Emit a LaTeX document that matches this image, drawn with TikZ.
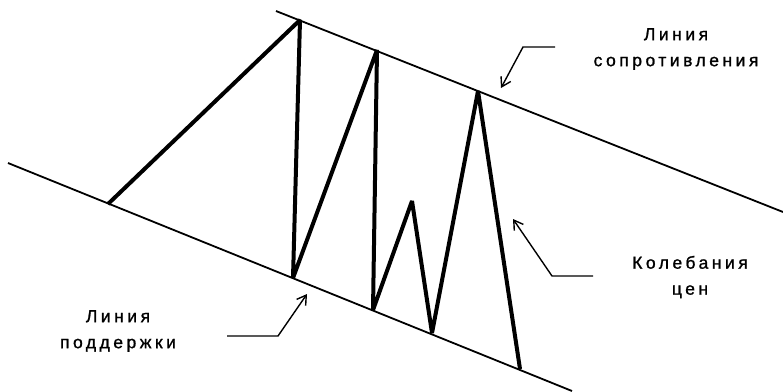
\documentclass[tikz,border=0pt]{standalone}
\usepackage{fontspec}
\newfontfamily\lblfont[LetterSpace=20,FakeBold=1.2]{Liberation Sans}
\usetikzlibrary{arrows.meta}
\begin{document}
\begin{tikzpicture}[x=1pt,y=-1pt,
  trend/.style={line width=1.8pt},
  price/.style={line width=4pt,line join=bevel,line cap=butt},
  pointer/.style={line width=1.4pt,-{Straight Barb[length=9pt,width=11pt,line width=1.4pt]}},
  lbl/.style={font=\lblfont\fontsize{17.5}{26}\selectfont,align=center,inner sep=0pt}]
\useasboundingbox (0,0) rectangle (783,391);
% trend lines
\coordinate (r1) at (276,11);
\coordinate (r2) at (783,212);
\coordinate (s1) at (8,163);
\coordinate (s2) at (572,391);
\draw[trend] (r1) -- (r2);
\draw[trend] (s1) -- (s2);
% price points
\coordinate (p0) at (108,204);
\coordinate (p1) at (300,20);
\coordinate (p2) at (293,278);
\coordinate (p3) at (377,50);
\coordinate (p4) at (373,310);
\coordinate (p5) at (412,201);
\coordinate (p6) at (432,333);
\coordinate (p7) at (478,91);
\coordinate (p8) at (520,369);
\draw[price] (p0) -- (p1) -- (p2) -- (p3) -- (p4) -- (p5) -- (p6) -- (p7) -- (p8);
% labels
\node[lbl] (res) at (676,49) {Линия\\сопротивления};
\node[lbl] (osc) at (690,277) {Колебания\\цен};
\node[lbl] (sup) at (118,331) {Линия\\поддержки};
% pointers
\coordinate (ra) at (555,47);
\coordinate (rb) at (523,47);
\coordinate (rt) at (501,88);
\draw[pointer] (ra) -- (rb) -- (rt);
\coordinate (oa) at (593,276);
\coordinate (ob) at (552,276);
\coordinate (ot) at (513,219);
\draw[pointer] (oa) -- (ob) -- (ot);
\coordinate (sa) at (227,336);
\coordinate (sb) at (278,336);
\coordinate (st) at (307,294);
\draw[pointer] (sa) -- (sb) -- (st);
\end{tikzpicture}
\end{document}
